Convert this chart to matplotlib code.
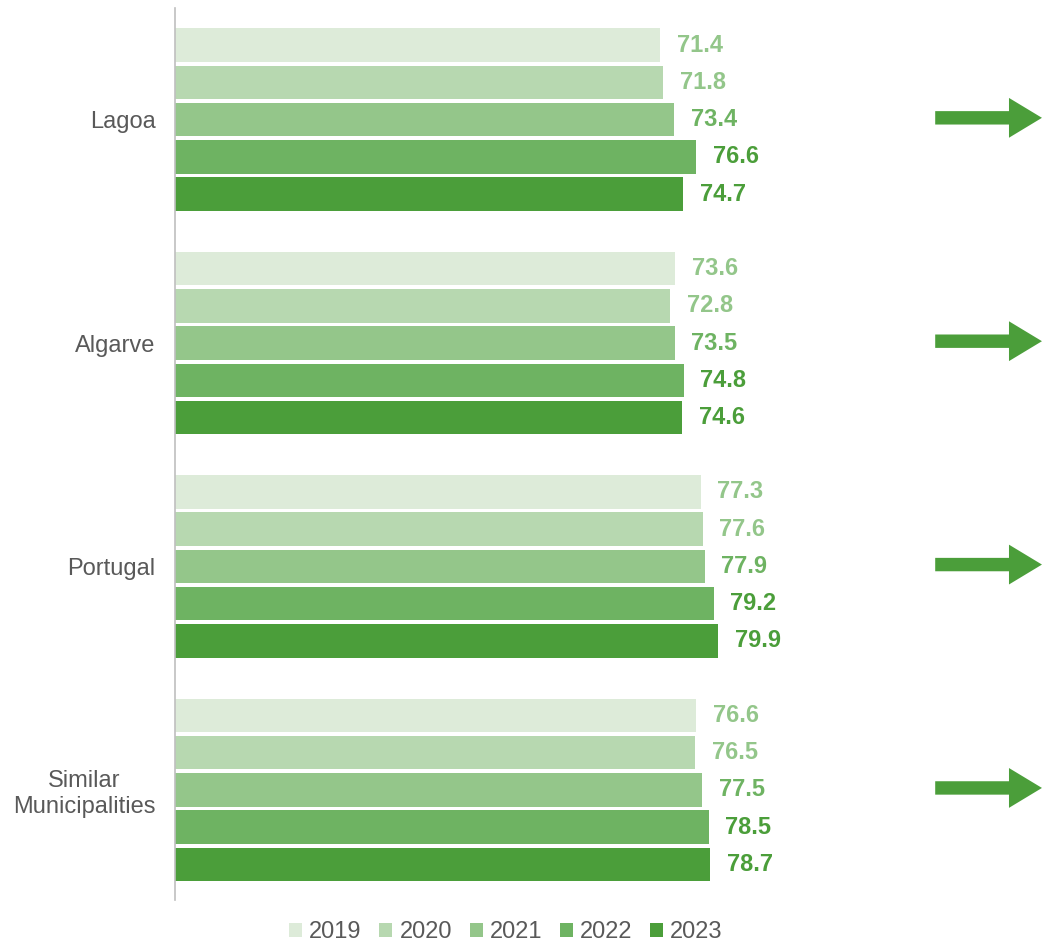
import matplotlib
matplotlib.use("Agg")
import matplotlib.pyplot as plt
from matplotlib.patches import Patch

categories = ["Lagoa", "Algarve", "Portugal", "Similar\nMunicipalities"]
years = ["2019", "2020", "2021", "2022", "2023"]
values = {
    "2019": [71.4, 73.6, 77.3, 76.6],
    "2020": [71.8, 72.8, 77.6, 76.5],
    "2021": [73.4, 73.5, 77.9, 77.5],
    "2022": [76.6, 74.8, 79.2, 78.5],
    "2023": [74.7, 74.6, 79.9, 78.7],
}
bar_colors = ["#DDEBD9", "#B7D8B0", "#94C68A", "#6EB362", "#4B9E3A"]
label_colors = ["#93C68A", "#93C68A", "#6EB362", "#4B9E3A", "#4B9E3A"]
arrow_color = "#4B9E3A"

plt.rcParams['font.family'] = ['Liberation Sans', 'DejaVu Sans']

fig = plt.figure(figsize=(10.44, 9.44), dpi=100)
ax = fig.add_axes([175/1044, 44/944, 1 - 175/1044, (900-8)/944])

group_step = 6
for j, yr in enumerate(years):
    ys = [i*group_step + (j-2) for i in range(len(categories))]
    ax.barh(ys, values[yr], height=0.9, color=bar_colors[j], edgecolor='none')
    for y, v in zip(ys, values[yr]):
        ax.annotate(f"{v:.1f}", (v, y), xytext=(12, 0), textcoords='offset points',
                    va='center', ha='left', fontsize=17, fontweight='bold',
                    color=label_colors[j])

for i in range(len(categories)):
    yc = i*group_step
    ax.arrow(111.8, yc - 0.05, 127.5 - 111.8, 0, width=0.36, head_width=1.07,
             head_length=4.85, length_includes_head=True, color=arrow_color,
             clip_on=False, linewidth=0)

ax.set_xlim(0, 127.8)
ax.set_ylim(20.96, -3.0)
ax.set_yticks([i*group_step for i in range(len(categories))])
ax.set_yticklabels(categories, fontsize=17, color='#595959', multialignment='center')
ax.tick_params(axis='y', length=0, pad=14)
ax.set_xticks([])
for s in ['top', 'right', 'bottom']:
    ax.spines[s].set_visible(False)
ax.spines['left'].set_color('#BFBFBF')
ax.spines['left'].set_linewidth(1.2)

handles = [Patch(facecolor=c, edgecolor='none', label=y) for c, y in zip(bar_colors, years)]
leg = fig.legend(handles=handles, loc='center', bbox_to_anchor=(506/1044, 1 - 932/944),
                 ncol=5, frameon=False, fontsize=17, handlelength=0.55, handleheight=0.55,
                 handletextpad=0.3, columnspacing=0.75, borderaxespad=0)
for t in leg.get_texts():
    t.set_color('#595959')

fig.savefig("out.png", dpi=100)
